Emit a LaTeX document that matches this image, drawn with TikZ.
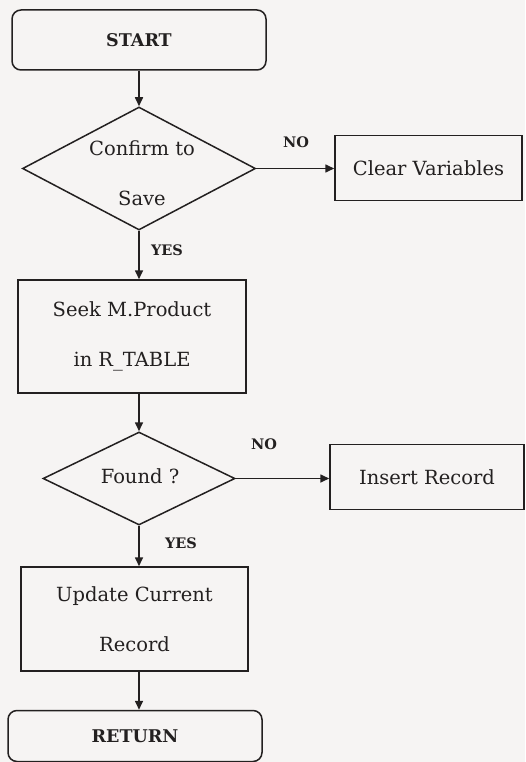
\documentclass[tikz,border=0pt]{standalone}
\usepackage{fontspec}
\setmainfont{DejaVu Serif}
\usetikzlibrary{shapes.geometric,arrows.meta}
\definecolor{ink}{RGB}{35,32,32}
\definecolor{paper}{RGB}{246,244,243}
\tikzset{
  base/.style={draw=ink, line width=1.5pt, text=ink, inner sep=0pt, align=center,
               font=\fontsize{19.5}{50}\selectfont},
  term/.style={base, rectangle, rounded corners=9pt, font=\bfseries\fontsize{17.5}{20}\selectfont},
  proc/.style={base, rectangle},
  dec/.style={base, diamond},
  arr/.style={draw=ink, line width=1.6pt, -{Triangle[length=9pt,width=8pt]}},
  lbl/.style={text=ink, inner sep=0pt, font=\bfseries\fontsize{14.5}{16}\selectfont}
}
\begin{document}
\begin{tikzpicture}[x=1pt,y=-1pt]
\fill[paper] (0,0) rectangle (525,762);
\useasboundingbox (0,0) rectangle (525,762);

\node[term, minimum width=254pt, minimum height=60pt] (start) at (139,40) {START};
\node[dec, minimum width=233pt, minimum height=123pt] (d1) at (139,168.5) {};
\node[base, draw=none] (d1t) at (142,173) {Confirm to\\Save};
\node[proc, minimum width=187pt, minimum height=65pt] (clear) at (428.5,168) {Clear Variables};
\node[proc, minimum width=228pt, minimum height=113pt] (seek) at (132,336.5) {Seek M.Product\\in R\_TABLE};
\node[dec, minimum width=192pt, minimum height=93pt] (d2) at (139,478.5) {};
\node[base, draw=none] (d2t) at (140,476) {Found ?};
\node[proc, minimum width=194pt, minimum height=65pt] (ins) at (427,477) {Insert Record};
\node[proc, minimum width=227pt, minimum height=104pt] (upd) at (134.5,619) {Update Current\\Record};
\node[term, minimum width=254pt, minimum height=51pt] (ret) at (135,736) {RETURN};

\draw[arr] (start.south -| d1.north) -- (d1.north);
\draw[arr] (d1.east) -- (d1.east -| clear.west);
\draw[arr] (d1.south) -- (d1.south |- seek.north);
\draw[arr] (seek.south -| d2.north) -- (d2.north);
\draw[arr] (d2.east) -- (d2.east -| ins.west);
\draw[arr] (d2.south) -- (d2.south |- upd.north);
\draw[arr] (upd.south -| d2.south) -- (ret.north -| d2.south);

\node[lbl] (no1) at (296,142) {NO};
\node[lbl] (yes1) at (167,250) {YES};
\node[lbl] (no2) at (264,444) {NO};
\node[lbl] (yes2) at (181,543) {YES};
\end{tikzpicture}
\end{document}
